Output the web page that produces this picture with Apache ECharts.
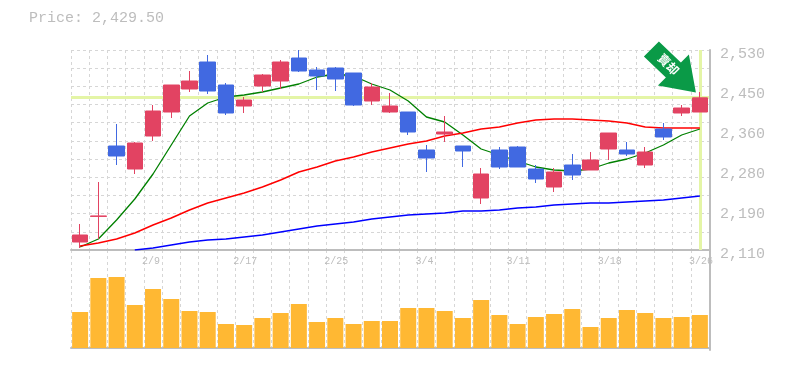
<!DOCTYPE html>
<html>
<head>
<meta charset="utf-8">
<style>
  html, body { margin: 0; padding: 0; background: #fff; }
  #chart { width: 785px; height: 370px; }
</style>
<script src="https://cdn.jsdelivr.net/npm/echarts@6/dist/echarts.min.js"></script>
</head>
<body>
<div id="chart"></div>
<script>
// blank entries are days without a tick label
var dateLabels = ["", "", "", "", "2/9", "", "", "", "", "2/17", "", "", "", "", "2/25", "", "", "", "", "3/4", "", "", "", "", "3/11", "", "", "", "", "3/18", "", "", "", "", "3/26"];
var priceTicks = [2110, 2194, 2278, 2362, 2446, 2530];
var lastPrice = 2429.5;
var lastPriceLine = 2430.25; // sits on a whole pixel so the band stays crisp

// open, close, low, high
var candles = [
  [2126.8, 2141.5, 2114.2, 2164.6], [2180.5, 2181.5, 2133.1, 2252.8], [2328.4, 2307.4, 2288.5, 2374.6],
  [2280.1, 2334.7, 2269.6, 2336.8], [2349.4, 2401.9, 2338.9, 2414.5], [2399.8, 2456.5, 2387.2, 2456.5],
  [2448.1, 2464.9, 2441.8, 2485.9], [2504.8, 2443.9, 2437.6, 2519.5], [2456.5, 2397.7, 2393.5, 2460.7],
  [2412.4, 2425, 2397.7, 2431.3], [2454.4, 2477.5, 2441.8, 2479.6], [2464.9, 2504.8, 2448.1, 2509],
  [2513.2, 2485.9, 2483.8, 2530], [2488, 2475.4, 2446, 2494.3], [2492.2, 2469.1, 2443.9, 2494.3],
  [2481.7, 2414.5, 2412.4, 2481.7], [2422.9, 2452.3, 2414.5, 2460.7], [2399.8, 2412.4, 2397.7, 2439.7],
  [2399.8, 2357.8, 2351.5, 2399.8], [2320, 2303.2, 2273.8, 2330.5], [2353.6, 2357.8, 2336.8, 2391.4],
  [2328.4, 2317.9, 2284.3, 2328.4], [2219.2, 2269.6, 2206.6, 2282.2], [2320, 2284.3, 2280.1, 2326.3],
  [2326.3, 2284.3, 2284.3, 2328.4], [2280.1, 2259.1, 2250.7, 2288.5], [2242.3, 2273.8, 2231.8, 2282.2],
  [2288.5, 2267.5, 2257, 2311.6], [2278, 2299, 2278, 2315.8], [2322.1, 2355.7, 2299, 2355.7],
  [2320, 2311.6, 2307.4, 2336.8], [2288.5, 2315.8, 2282.2, 2326.3], [2364.1, 2347.3, 2341, 2376.7],
  [2397.7, 2408.2, 2391.4, 2414.5], [2399.8, 2429.5, 2399.8, 2441.8]
];
var maShort = [2116.3, 2133.1, 2173, 2217.1, 2269.6, 2330.5, 2391.4, 2418.7, 2431.3, 2435.5, 2441.8, 2450.2, 2458.6, 2473.3, 2479.6, 2475.4, 2458.6, 2446, 2422.9, 2389.3, 2378.8, 2351.5, 2322.1, 2309.5, 2296.9, 2284.3, 2278, 2275.9, 2280.1, 2292.7, 2301.1, 2313.7, 2330.5, 2351.5, 2364.1];
var maMid = [2118.4, 2124.7, 2133.1, 2145.7, 2162.5, 2177.2, 2194, 2208.7, 2219.2, 2229.7, 2242.3, 2257, 2273.8, 2284.3, 2296.9, 2305.3, 2315.8, 2324.2, 2332.6, 2338.9, 2349.4, 2355.7, 2364.1, 2368.3, 2376.7, 2383, 2385.1, 2385.1, 2383, 2380.9, 2376.7, 2368.3, 2366.2, 2366.2, 2366.2];
var maLong = [null, null, null, 2110, 2114.2, 2120.5, 2126.8, 2131, 2133.1, 2137.3, 2141.5, 2147.8, 2154.1, 2160.4, 2164.6, 2168.8, 2175.1, 2179.3, 2183.5, 2185.6, 2187.7, 2191.9, 2191.9, 2194, 2198.2, 2200.3, 2204.5, 2206.6, 2208.7, 2208.7, 2210.8, 2212.9, 2215, 2219.2, 2223.4];
var volumes = [36, 70, 71, 43, 59, 49, 37, 36, 24, 23, 30, 35, 44, 26, 30, 24, 27, 27, 40, 40, 37, 30, 48, 33, 24, 31, 34, 39, 21, 30, 38, 35, 30, 31, 33];

var C = { up: "#E24362", down: "#4169E1", vol: "#FFB833", grid: "#D6D6D6", axis: "#BDBDBD", text: "#BDBDBD", mark: "#E4F5A6", sell: "#0A9A47" };
var MONO = "'Liberation Mono', monospace";

function fmtPrice(v) {
  return (Math.round(v / 10) * 10).toLocaleString("en-US");
}

var dashed = { show: true, lineStyle: { color: C.grid, type: [3, 3], width: 1 } };

var chart = echarts.init(document.getElementById("chart"), null, { renderer: "canvas" });
chart.setOption({
  animation: false,
  backgroundColor: "#fff",
  title: {
    text: "Price: " + lastPrice.toLocaleString("en-US", { minimumFractionDigits: 2 }),
    left: 29, top: 11, padding: 0,
    textStyle: { color: C.text, fontFamily: MONO, fontSize: 15, fontWeight: "normal" }
  },
  grid: [
    { left: 71, right: 76, top: 50, height: 200 },
    { left: 71, right: 76, top: 250, height: 100 }
  ],
  xAxis: [
    {
      type: "category", gridIndex: 0, data: dateLabels,
      axisLine: { show: true, lineStyle: { color: C.axis, width: 2 } },
      axisTick: { show: false },
      axisLabel: {
        interval: 0, color: C.text, fontFamily: MONO, fontSize: 10, margin: 6,
        align: "left", padding: [0, 0, 0, -11], hideOverlap: false
      },
      splitLine: { ...dashed, interval: 0 }
    },
    {
      type: "category", gridIndex: 1, data: dateLabels,
      axisLine: { show: true, lineStyle: { color: C.axis, width: 2 } },
      axisTick: { show: false },
      axisLabel: { show: false },
      splitLine: { ...dashed, interval: 0 }
    }
  ],
  yAxis: [
    {
      type: "value", gridIndex: 0, position: "right", offset: 1, min: 2110, max: 2530,
      axisLine: { show: true, lineStyle: { color: C.axis, width: 2 } },
      axisTick: { show: false },
      splitLine: { show: false },
      axisLabel: {
        customValues: priceTicks, formatter: fmtPrice,
        color: C.text, fontFamily: MONO, fontSize: 15, margin: 10,
        verticalAlign: "top", padding: [-3, 0, 0, 0]
      }
    },
    {
      // only carries the 11 dotted background rows
      type: "value", gridIndex: 0, min: 0, max: 11, interval: 1,
      axisLine: { show: false }, axisTick: { show: false }, axisLabel: { show: false },
      splitLine: dashed
    },
    {
      type: "value", gridIndex: 1, position: "right", offset: 1, min: -2, max: 98,
      axisLine: { show: true, lineStyle: { color: C.axis, width: 2 } },
      axisTick: { show: false }, axisLabel: { show: false }, splitLine: { show: false }
    }
  ],
  series: [
    {
      type: "line", name: "short", data: maShort, showSymbol: false, z: 2,
      lineStyle: { color: "#008000", width: 1.3 },
      markLine: {
        silent: true, symbol: "none", z: 1, animation: false, label: { show: false },
        lineStyle: { color: C.mark, width: 3, type: "solid" },
        data: [{ yAxis: lastPriceLine }, { xAxis: candles.length - 1 }]
      }
    },
    { type: "line", name: "mid", data: maMid, showSymbol: false, z: 2, lineStyle: { color: "#FF0000", width: 1.5 } },
    { type: "line", name: "long", data: maLong, showSymbol: false, z: 2, lineStyle: { color: "#0000FF", width: 1.5 } },
    {
      type: "candlestick", name: "price", data: candles, barWidth: 16, z: 3,
      itemStyle: { color: C.up, color0: C.down, borderColor: C.up, borderColor0: C.down, borderWidth: 1 },
      markPoint: {
        silent: true, z: 6, animation: false,
        data: [{
          coord: [candles.length - 1, candles[candles.length - 1][3]],
          symbol: "path://M0,15 L15,0 L37,21 L45,13 L52,51 L14,44 L22,36 Z",
          symbolSize: [52, 51],
          symbolKeepAspect: false,
          symbolOffset: [-30, -25],
          itemStyle: { color: C.sell },
          label: {
            show: true, formatter: "賣却", position: "inside", offset: [-3, -1], rotate: -45,
            color: "#fff", fontFamily: "'Noto Sans CJK TC'", fontSize: 12, fontWeight: "bold"
          }
        }]
      }
    },
    {
      type: "bar", name: "volume", xAxisIndex: 1, yAxisIndex: 2, data: volumes, barWidth: 16,
      itemStyle: { color: C.vol }
    }
  ]
});
</script>
</body>
</html>
